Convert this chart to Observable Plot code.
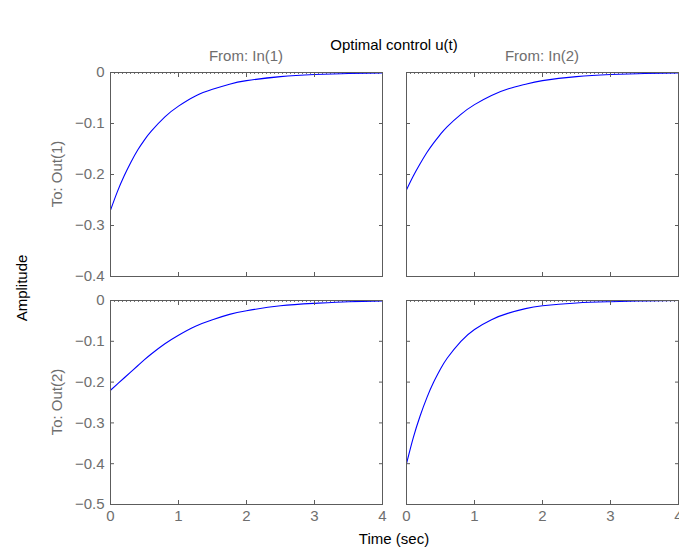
<!DOCTYPE html>
<html>
<head>
<meta charset="utf-8">
<script src="https://cdn.jsdelivr.net/npm/d3@7"></script>
<script src="https://cdn.jsdelivr.net/npm/@observablehq/plot@0.6"></script>
<style>
  html, body { margin: 0; padding: 0; background: #fff; }
  #wrap { position: relative; width: 679px; height: 549px; overflow: hidden; font-family: "Liberation Sans", Arial, sans-serif; }
  #wrap svg.panel { position: absolute; overflow: visible; }
  #labels { position: absolute; left: 0; top: 0; }
</style>
</head>
<body>
<div id="wrap"></div>
<script>
// ---- data ----
const title = "Optimal control u(t)";
const inputs = ["From: In(1)", "From: In(2)"];
const outputs = ["To: Out(1)", "To: Out(2)"];
const xLabel = "Time (sec)";
const yLabel = "Amplitude";

const time = [0, 0.1, 0.2, 0.3, 0.4, 0.5, 0.6, 0.8, 1, 1.25, 1.5, 1.75, 2, 2.5, 3, 3.5, 4];
const out1In1 = [-0.270, -0.234, -0.203, -0.176, -0.152, -0.132, -0.115, -0.087, -0.066, -0.046, -0.033, -0.023, -0.016, -0.008, -0.004, -0.002, -0.001];
const out1In2 = [-0.230, -0.203, -0.179, -0.157, -0.138, -0.121, -0.106, -0.082, -0.063, -0.045, -0.032, -0.023, -0.016, -0.008, -0.004, -0.002, -0.001];
const out2In1 = [-0.220, -0.205, -0.190, -0.175, -0.160, -0.145, -0.131, -0.106, -0.085, -0.063, -0.047, -0.034, -0.025, -0.013, -0.007, -0.003, -0.001];
const out2In2 = [-0.400, -0.336, -0.283, -0.238, -0.200, -0.168, -0.141, -0.100, -0.071, -0.047, -0.031, -0.020, -0.013, -0.006, -0.003, -0.001, 0];

const xTicks = [0, 1, 2, 3, 4];
const yTicksTop = [0, -0.1, -0.2, -0.3, -0.4];
const yTicksBottom = [0, -0.1, -0.2, -0.3, -0.4, -0.5];

// ---- layout ----
const FW = 272, FH = 204;
const ML = 60, MR = 1, MT = 1, MB = 30;
const frameLeft = [110, 406];
const frameTop = [72, 300];
const axisColor = "#5c5c5c";
const labelColor = "#6e6e6e";
const fmtY = d => d === 0 ? "0" : d3.format(".1f")(d);

const series = [[out1In1, out1In2], [out2In1, out2In2]];
const yTicksRows = [yTicksTop, yTicksBottom];

const wrap = document.getElementById("wrap");

for (let r = 0; r < 2; r++) {
  for (let c = 0; c < 2; c++) {
    const vals = series[r][c];
    const data = time.map((t, i) => ({t, v: vals[i]}));
    const yt = yTicksRows[r];
    const yDomain = [yt[yt.length - 1], 0];
    const marks = [
      Plot.ruleY([0], {stroke: "#777", strokeDasharray: "1,3", dy: 1}),
      Plot.line(data, {x: "t", y: "v", stroke: "#0000ff", strokeWidth: 1.1, curve: "natural"}),
      Plot.frame({stroke: axisColor, strokeWidth: 1}),
      Plot.axisY(yt, {anchor: "left", tickSize: 4, dx: 4, text: null, label: null, stroke: axisColor}),
      Plot.axisY(yt, {anchor: "right", tickSize: 4, dx: -4, text: null, label: null, stroke: axisColor}),
      Plot.axisX(xTicks, {anchor: "bottom", tickSize: 4, dy: -4, text: null, label: null, stroke: axisColor}),
      Plot.axisX(xTicks, {anchor: "top", tickSize: 4, dy: 4, text: null, label: null, stroke: axisColor})
    ];
    if (c === 0) {
      marks.push(Plot.axisY(yt, {anchor: "left", tickSize: 0, tickPadding: 6, tickFormat: fmtY, label: null, fill: labelColor, fontSize: 15}));
    }
    if (r === 1) {
      marks.push(Plot.axisX(xTicks, {anchor: "bottom", tickSize: 0, tickPadding: 6, tickFormat: d3.format("d"), label: null, fill: labelColor, fontSize: 15}));
    }
    const svg = Plot.plot({
      width: FW + ML + MR,
      height: FH + MT + MB,
      marginLeft: ML, marginRight: MR, marginTop: MT, marginBottom: MB,
      x: {domain: [0, 4], label: null},
      y: {domain: yDomain, label: null},
      style: {fontFamily: "'Liberation Sans', Arial, sans-serif", background: "transparent", overflow: "visible"},
      marks
    });
    svg.classList.add("panel");
    svg.style.left = (frameLeft[c] - ML) + "px";
    svg.style.top = (frameTop[r] - MT) + "px";
    wrap.appendChild(svg);
  }
}

// ---- titles and labels ----
const lab = d3.select(wrap).append("svg").attr("id", "labels")
  .attr("width", 679).attr("height", 549)
  .style("font-family", "'Liberation Sans', Arial, sans-serif");

lab.append("text").attr("x", 394).attr("y", 50).attr("text-anchor", "middle")
  .attr("font-size", 15).attr("fill", "#000").text(title);
inputs.forEach((s, c) => {
  lab.append("text").attr("x", frameLeft[c] + FW / 2).attr("y", 61).attr("text-anchor", "middle")
    .attr("font-size", 15).attr("fill", labelColor).text(s);
});
outputs.forEach((s, r) => {
  lab.append("text").attr("transform", `translate(62,${frameTop[r] + FH / 2}) rotate(-90)`)
    .attr("text-anchor", "middle").attr("font-size", 15).attr("fill", labelColor).text(s);
});
lab.append("text").attr("transform", `translate(27,288) rotate(-90)`)
  .attr("text-anchor", "middle").attr("font-size", 15).attr("fill", "#000").text(yLabel);
lab.append("text").attr("x", 394).attr("y", 544).attr("text-anchor", "middle")
  .attr("font-size", 15).attr("fill", "#000").text(xLabel);
</script>
</body>
</html>
